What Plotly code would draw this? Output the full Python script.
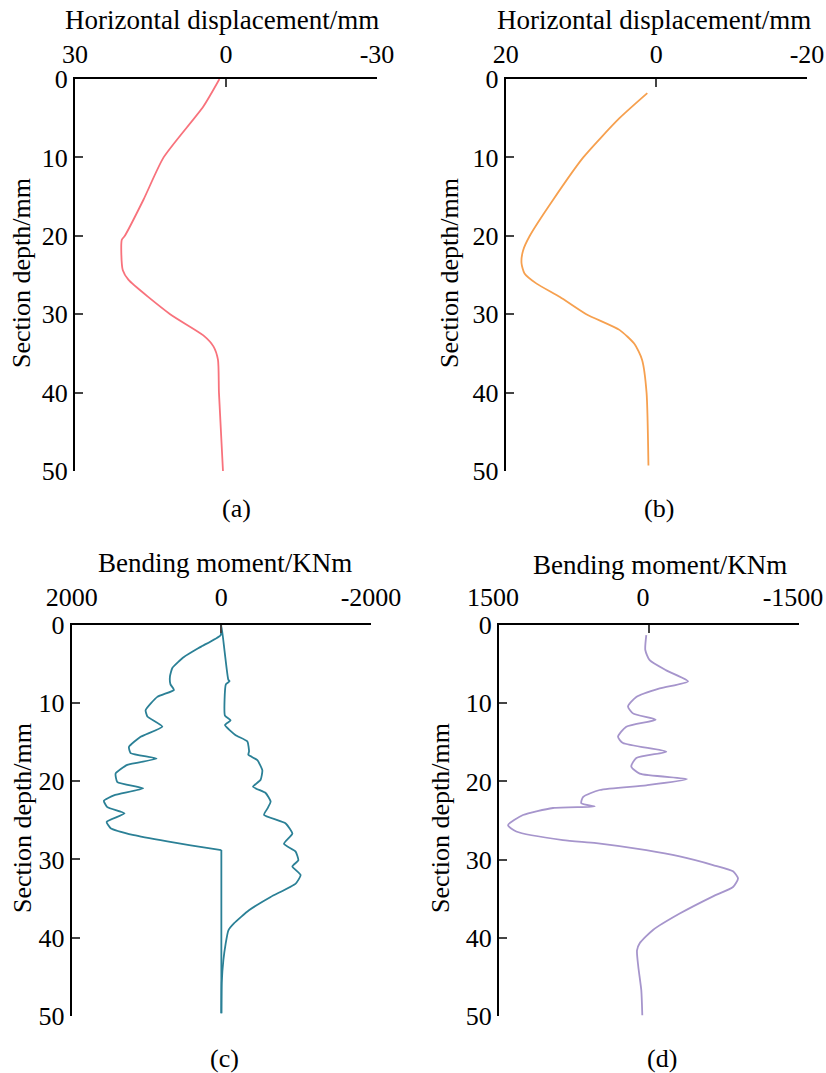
import plotly.graph_objects as go

# ---------------- data ----------------
# (a) horizontal displacement
depth_a = [0, 3.5, 10, 15.4, 20, 20.5, 22.2, 24.4, 25.6, 30, 32.7, 34.1, 35.8, 40, 50]
disp_a = [1.3, 4.5, 12.4, 16.4, 20.1, 20.7, 20.8, 20.5, 19.4, 11.1, 4.5, 2.5, 1.6, 1.4, 0.6]

# (b) horizontal displacement
depth_b = [1.8, 5, 10, 15.4, 20, 21.9, 23.5, 24.8, 26.1, 27.8, 30, 32.0, 33.8, 35.8, 40, 49.3]
disp_b = [1.2, 4.9, 9.7, 13.7, 16.8, 17.7, 17.9, 17.5, 15.9, 12.8, 9.3, 4.9, 2.9, 1.9, 1.3, 1.05]

# (c) bending moment (single polyline: bottom -> left branch -> top -> right branch -> bottom)
depth_c = [49.7, 28.8, 28.2, 27.7, 26.9, 26.0, 25.2, 24.1, 23.3, 22.5, 21.8, 20.9, 20.1, 19.0,
           17.9, 17.1, 16.4, 15.6, 14.3, 13.0, 11.7, 10.9, 9.2, 8.3, 7.6, 6.6, 5.5, 4.1, 2.8,
           1.3, 0.0,
           3.5, 7.0, 7.2, 7.6, 11.6, 12.2, 12.8, 14.1, 14.9, 16.2, 16.6, 17.3, 18.6, 19.8, 20.7,
           21.5, 22.6, 23.5, 24.3, 25.4, 26.7, 28.0, 29.0, 30.1, 30.9, 32.0, 33.1, 34.8, 36.5,
           38.2, 39.1, 40.8, 42.9, 45.8, 49.7]
moment_c = [0, 0, 410, 722, 1168, 1480, 1533, 1293, 1524, 1570, 1436, 1043, 1390, 1413,
            1257, 865, 1213, 1235, 1079, 789, 989, 1012, 856, 633, 680, 687, 655, 500, 277,
            10, 0,
            -45, -93, -110, -60, -48, -124, -48, -191, -348, -370, -360, -481, -548, -525, -423,
            -592, -659, -615, -570, -860, -949, -837, -993, -1029, -949, -1060, -993, -659, -369,
            -168, -93, -57, -27, -5, 0]

# (d) bending moment
depth_d = [1.3, 3.2, 4.5, 5.8, 7.2, 8.1, 9.2, 10.4, 11.3, 12.1, 13.0, 14.3, 15.1, 16.2,
           17.0, 18.1, 19.0, 19.7, 20.5, 21.1, 22.0, 22.8, 23.2, 23.4, 24.3, 25.6, 26.4,
           27.5, 27.9, 28.8, 29.6, 30.7, 31.5, 32.4, 33.5, 34.7, 36.9, 39.0, 40.7, 41.6,
           43.7, 46.7, 49.9]
moment_d = [27, 37, -7, -173, -390, -107, 127, 210, 160, -67, 227, 310, 260, -173,
            127, 177, 93, -380, 27, 493, 660, 677, 543, 960, 1260, 1410, 1327,
            860, 527, 27, -307, -640, -840, -890, -840, -640, -307, -40, 93, 120,
            107, 77, 67]

x_titles = ["Horizontal displacement/mm", "Horizontal displacement/mm",
            "Bending moment/KNm", "Bending moment/KNm"]
y_title = "Section depth/mm"
x_ranges = [[30, -30], [20, -20], [2000, -2000], [1500, -1500]]
x_ticks = [[30, 0, -30], [20, 0, -20], [2000, 0, -2000], [1500, 0, -1500]]
x_ticktext = [["30", "0", "-30"], ["20", "0", "-20"], ["2000", "0", "-2000"],
              ["1500", "0", "-1500"]]
y_ticks = [0, 10, 20, 30, 40, 50]
captions = ["(a)", "(b)", "(c)", "(d)"]
colors = ["#F8727C", "#F6A04F", "#2B8096", "#A695CC"]

W, H = 826, 1073
# plot boxes in pixels: (left, right, top, bottom)
boxes = [(75, 377, 79, 471), (505.7, 807, 79, 471),
         (71.7, 371, 625, 1015.7), (499, 799, 625, 1016)]
label_shift = [0, 0, 0, 6]
label_standoff = [4, 4, 7, 7]
# text placements in pixels
xtitle_pos = [(222, 20), (654, 20), (225, 563), (660, 565)]
ytitle_pos = [(22, 273), (450, 273), (22, 818), (440, 818)]
caption_pos = [(236, 508), (659, 508), (224, 1058), (662, 1058)]

FONT = "Liberation Serif"

fig = go.Figure()
layout = dict(width=W, height=H, margin=dict(l=0, r=0, t=0, b=0),
              paper_bgcolor="white", plot_bgcolor="white", showlegend=False,
              font=dict(family=FONT, size=22, color="black"))
annotations = []


def px(xp, yp):
    return xp / W, 1 - yp / H


# traces: (panel index, x values, y values, shape, smoothing)
traces = [
    (0, disp_a, depth_a, "spline", 0.6),
    (1, disp_b, depth_b, "spline", 0.6),
    (2, moment_c[:2], depth_c[:2], "linear", 0),        # vertical segment at zero moment
    (2, moment_c[1:], depth_c[1:], "spline", 0.45),     # both branches of the envelope
    (3, moment_d, depth_d, "spline", 0.6),
]
for i, xv, yv, shape, sm in traces:
    n = "" if i == 0 else str(i + 1)
    fig.add_trace(go.Scatter(x=xv, y=yv, mode="lines",
                             line=dict(color=colors[i], width=1.8, shape=shape, smoothing=sm),
                             xaxis="x" + n, yaxis="y" + n, hoverinfo="skip"))

for i, box in enumerate(boxes):
    n = "" if i == 0 else str(i + 1)
    l, r, t, b = box
    layout["xaxis" + n] = dict(
        domain=[l / W, r / W], anchor="y" + n, side="top", range=x_ranges[i],
        tickvals=x_ticks[i], ticktext=x_ticktext[i], ticks="inside", ticklen=8, tickwidth=2,
        showline=True, linecolor="black", linewidth=2, showgrid=False, zeroline=False,
        automargin=False, ticklabelstandoff=label_standoff[i], ticklabelshift=label_shift[i],
        ticklabeloverflow="allow",
        tickfont=dict(family=FONT, size=26, color="black"))
    layout["yaxis" + n] = dict(
        domain=[1 - b / H, 1 - t / H], anchor="x" + n, range=[50, 0],
        tickvals=y_ticks, ticks="inside", ticklen=8, tickwidth=2,
        showline=True, linecolor="black", linewidth=2, showgrid=False, zeroline=False,
        automargin=False, ticklabeloverflow="allow",
        tickfont=dict(family=FONT, size=26, color="black"))
    xx, yy = px(*xtitle_pos[i])
    annotations.append(dict(text=x_titles[i], xref="paper", yref="paper", x=xx, y=yy,
                            showarrow=False, xanchor="center", yanchor="middle",
                            font=dict(family=FONT, size=27, color="black")))
    xx, yy = px(*ytitle_pos[i])
    annotations.append(dict(text=y_title, xref="paper", yref="paper", x=xx, y=yy,
                            showarrow=False, xanchor="center", yanchor="middle", textangle=-90,
                            font=dict(family=FONT, size=26, color="black")))
    xx, yy = px(*caption_pos[i])
    annotations.append(dict(text=captions[i], xref="paper", yref="paper", x=xx, y=yy,
                            showarrow=False, xanchor="center", yanchor="middle",
                            font=dict(family=FONT, size=26, color="black")))
layout["annotations"] = annotations
fig.update_layout(**layout)
fig.write_html("out.html")
